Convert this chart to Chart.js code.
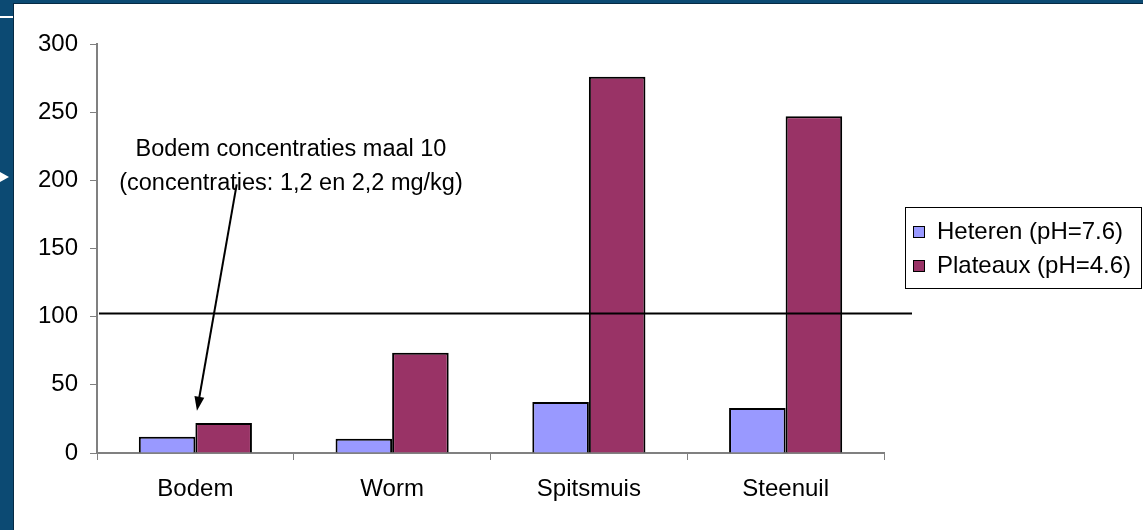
<!DOCTYPE html>
<html>
<head>
<meta charset="utf-8">
<script src="https://cdn.jsdelivr.net/npm/chart.js@4.4.1/dist/chart.umd.min.js"></script>
<style>
html,body{margin:0;padding:0;}
body{width:1143px;height:530px;background:#0c4a73;position:relative;overflow:hidden;}
#panel{position:absolute;left:13px;top:3px;right:0;bottom:0;background:#fff;border-left:1px solid #062a44;border-top:1px solid #062a44;}
#rule{position:absolute;left:0;top:16px;width:13px;height:2px;background:#fff;}
#tri{position:absolute;left:0;top:172px;width:0;height:0;border-top:5px solid transparent;border-bottom:5px solid transparent;border-left:9px solid #fff;}
#chart{position:absolute;left:0;top:0;}
</style>
</head>
<body>
<div id="panel"></div>
<div id="rule"></div>
<div id="tri"></div>
<canvas id="chart" width="1143" height="530"></canvas>
<script>
const categories = ["Bodem", "Worm", "Spitsmuis", "Steenuil"];
const heteren = [12, 10.5, 37.5, 33];
const plateaux = [22, 73.5, 276, 247];
const seriesNames = ["Heteren (pH=7.6)", "Plateaux (pH=4.6)"];
const yTicks = [0, 50, 100, 150, 200, 250, 300];
const limitValue = 102.5;
const noteLines = ["Bodem concentraties maal 10", "(concentraties: 1,2 en 2,2 mg/kg)"];

const FONT = "'Liberation Sans', Arial, sans-serif";

// annotation text + arrow, positions in scale units (category index, value)
const note = {x: 0.486, y: [222.5, 197.5], from: {x: 0.21, y: 197}, to: {x: 0.008, y: 31}};

const extras = {
  id: "extras",
  afterDatasetsDraw(chart){
    const c = chart.ctx, xs = chart.scales.x, ys = chart.scales.y, a = chart.chartArea;
    c.save();
    // limit line
    const ly = Math.round(ys.getPixelForValue(limitValue)) + 0.5;
    c.strokeStyle = "#000";
    c.lineWidth = 2;
    c.beginPath();
    c.moveTo(a.left + 2, ly);
    c.lineTo(a.right + 28, ly);
    c.stroke();

    // note text
    c.fillStyle = "#000";
    c.font = "23.5px " + FONT;
    c.textAlign = "center";
    c.textBaseline = "middle";
    noteLines.forEach((t, i) => {
      c.fillText(t, xs.getPixelForValue(note.x), ys.getPixelForValue(note.y[i]));
    });

    // arrow
    const x1 = xs.getPixelForValue(note.from.x), y1 = ys.getPixelForValue(note.from.y);
    const x2 = xs.getPixelForValue(note.to.x), y2 = ys.getPixelForValue(note.to.y);
    const ang = Math.atan2(y2 - y1, x2 - x1);
    const hl = 14, hw = 5;
    c.lineWidth = 2;
    c.beginPath();
    c.moveTo(x1, y1);
    c.lineTo(x2 - Math.cos(ang) * hl * 0.8, y2 - Math.sin(ang) * hl * 0.8);
    c.stroke();
    c.beginPath();
    c.moveTo(x2, y2);
    c.lineTo(x2 - Math.cos(ang) * hl - Math.sin(ang) * hw, y2 - Math.sin(ang) * hl + Math.cos(ang) * hw);
    c.lineTo(x2 - Math.cos(ang) * hl + Math.sin(ang) * hw, y2 - Math.sin(ang) * hl - Math.cos(ang) * hw);
    c.closePath();
    c.fill();

    // legend box
    const bx = 905, by = 207, bw = 236, bh = 81;
    c.lineWidth = 1;
    c.strokeStyle = "#000";
    c.strokeRect(bx + 0.5, by + 0.5, bw, bh);
    c.font = "24px " + FONT;
    c.textAlign = "left";
    chart.data.datasets.forEach((d, i) => {
      const cy = by + 24 + i * 34;
      c.fillStyle = d.backgroundColor;
      c.fillRect(bx + 8, cy - 5, 11, 11);
      c.strokeRect(bx + 8.5, cy - 4.5, 11, 11);
      c.fillStyle = "#000";
      c.fillText(d.label, bx + 32, cy + 1);
    });
    c.restore();
  }
};

new Chart(document.getElementById("chart"), {
  type: "bar",
  data: {
    labels: categories,
    datasets: [
      {label: seriesNames[0], data: heteren, backgroundColor: "#9999ff", borderColor: "#000", borderWidth: 2},
      {label: seriesNames[1], data: plateaux, backgroundColor: "#993366", borderColor: "#000", borderWidth: 2}
    ]
  },
  options: {
    responsive: false,
    animation: false,
    devicePixelRatio: 1,
    layout: {padding: {left: 37, right: 259, top: 44, bottom: 0}},
    plugins: {legend: {display: false}, tooltip: {enabled: false}},
    datasets: {bar: {barPercentage: 1, categoryPercentage: 0.575}},
    scales: {
      x: {
        grid: {drawOnChartArea: false, color: "#808080", tickLength: 7, offset: true},
        border: {color: "#808080", width: 2},
        ticks: {color: "#000", font: {family: FONT, size: 24}, padding: 15, maxRotation: 0},
        afterFit: s => { s.height = 77; }
      },
      y: {
        min: 0, max: 300,
        afterBuildTicks: s => { s.ticks = yTicks.map(v => ({value: v})); },
        grid: {drawOnChartArea: false, color: "#808080", tickLength: 7},
        border: {color: "#808080", width: 2},
        ticks: {color: "#000", font: {family: FONT, size: 24}, padding: 12},
        afterFit: s => { s.width = 60; }
      }
    }
  },
  plugins: [extras]
});
</script>
</body>
</html>
